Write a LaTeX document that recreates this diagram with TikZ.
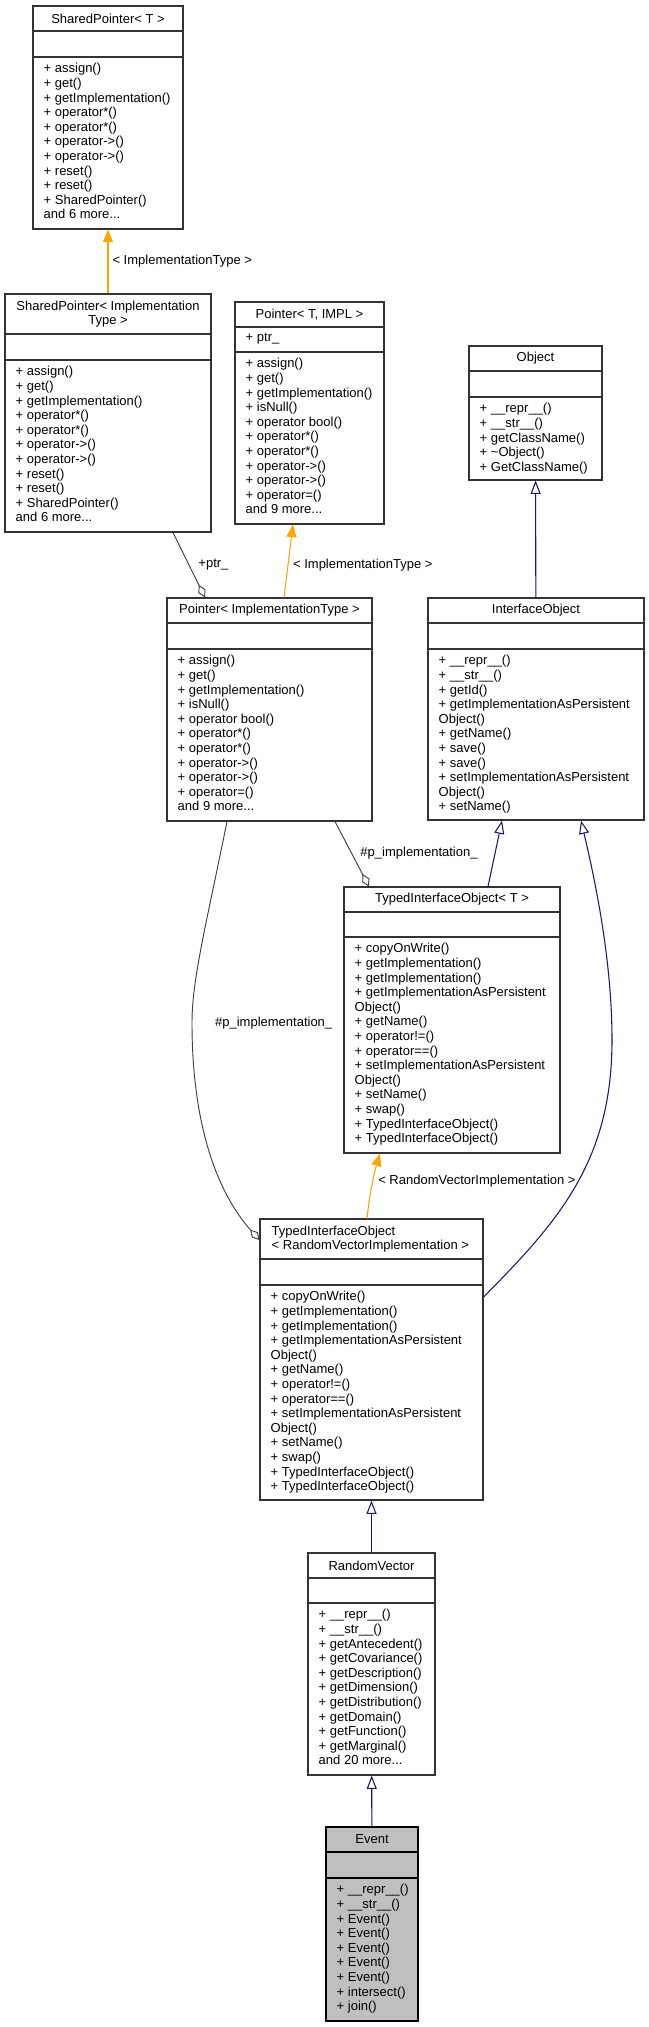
\documentclass[tikz,border=0pt]{standalone}
\usepackage{fontspec}
\setmainfont{Liberation Sans}
\usepackage{xcolor}
\usetikzlibrary{arrows.meta,positioning}

\definecolor{tmplorange}{HTML}{FFA500}
\definecolor{inhblue}{HTML}{191970}
\definecolor{usegray}{HTML}{404040}

\begin{document}
\begin{tikzpicture}[x=0.75pt, y=-0.75pt,
	every node/.style={font=\fontsize{9.75}{10.95}\selectfont},
	cls/.style={rectangle, draw=black!80, line width=0.8pt, fill=white, inner sep=0pt},
	ttl/.style={inner sep=0pt, align=center},
	mem/.style={anchor=north west, inner xsep=8.25pt, inner ysep=4.6pt, align=left},
	tmpl/.style={draw=tmplorange, line width=0.8pt, -{Triangle[length=9.5pt, width=7.5pt]}},
	inh/.style={draw=inhblue, line width=0.8pt, -{Triangle[open, length=10pt, width=7.5pt, fill=white]}},
	use/.style={draw=usegray, line width=0.7pt, -{Diamond[open, length=10.5pt, width=6pt, fill=white]}},
	lbl/.style={inner sep=0pt}
]
	\useasboundingbox (0,0) rectangle (649,2027);

	% SharedPointer< T >
	\node[cls, minimum width=112.5pt, minimum height=167.25pt] (SPT) at (108,117.5) {};
	\draw[black!80, line width=0.8pt] (SPT.west |- 0,31) -- (SPT.east |- 0,31);
	\draw[black!80, line width=0.8pt] (SPT.west |- 0,57) -- (SPT.east |- 0,57);
	\node[ttl] (SPTt) at (108,18.5) {SharedPointer< T >};
	\node[mem] (SPTm) at (SPT.west |- 0,57) {+ assign()\\+ get()\\+ getImplementation()\\+ operator*()\\+ operator*()\\+ operator->()\\+ operator->()\\+ reset()\\+ reset()\\+ SharedPointer()\\and 6 more...};

	% SharedPointer< ImplementationType >
	\node[cls, minimum width=154.5pt, minimum height=178.5pt] (SPI) at (108,413) {};
	\draw[black!80, line width=0.8pt] (SPI.west |- 0,334) -- (SPI.east |- 0,334);
	\draw[black!80, line width=0.8pt] (SPI.west |- 0,360) -- (SPI.east |- 0,360);
	\node[ttl] (SPIt) at (108,314) {SharedPointer< Implementation\\Type >};
	\node[mem] (SPIm) at (SPI.west |- 0,360) {+ assign()\\+ get()\\+ getImplementation()\\+ operator*()\\+ operator*()\\+ operator->()\\+ operator->()\\+ reset()\\+ reset()\\+ SharedPointer()\\and 6 more...};

	% Pointer< T, IMPL >
	\node[cls, minimum width=111.75pt, minimum height=166.5pt] (PTI) at (309.5,413) {};
	\draw[black!80, line width=0.8pt] (PTI.west |- 0,327) -- (PTI.east |- 0,327);
	\draw[black!80, line width=0.8pt] (PTI.west |- 0,352) -- (PTI.east |- 0,352);
	\node[ttl] (PTIt) at (309.5,314.5) {Pointer< T, IMPL >};
	\node[mem] (PTIa) at (PTI.west |- 0,327) {+ ptr\_};
	\node[mem] (PTIm) at (PTI.west |- 0,352) {+ assign()\\+ get()\\+ getImplementation()\\+ isNull()\\+ operator bool()\\+ operator*()\\+ operator*()\\+ operator->()\\+ operator->()\\+ operator=()\\and 9 more...};

	% Object
	\node[cls, minimum width=99.75pt, minimum height=100.5pt] (OBJ) at (535.5,413) {};
	\draw[black!80, line width=0.8pt] (OBJ.west |- 0,371) -- (OBJ.east |- 0,371);
	\draw[black!80, line width=0.8pt] (OBJ.west |- 0,397) -- (OBJ.east |- 0,397);
	\node[ttl] (OBJt) at (535.5,358.5) {Object};
	\node[mem] (OBJm) at (OBJ.west |- 0,397) {+ \_\_repr\_\_()\\+ \_\_str\_\_()\\+ getClassName()\\+ \textasciitilde Object()\\+ GetClassName()};

	% Pointer< ImplementationType >
	\node[cls, minimum width=153.75pt, minimum height=167.25pt] (PIT) at (269.5,709.5) {};
	\draw[black!80, line width=0.8pt] (PIT.west |- 0,623) -- (PIT.east |- 0,623);
	\draw[black!80, line width=0.8pt] (PIT.west |- 0,649) -- (PIT.east |- 0,649);
	\node[ttl] (PITt) at (269.5,610.5) {Pointer< ImplementationType >};
	\node[mem] (PITm) at (PIT.west |- 0,649) {+ assign()\\+ get()\\+ getImplementation()\\+ isNull()\\+ operator bool()\\+ operator*()\\+ operator*()\\+ operator->()\\+ operator->()\\+ operator=()\\and 9 more...};

	% InterfaceObject
	\node[cls, minimum width=162pt, minimum height=166.5pt] (IO) at (536,709) {};
	\draw[black!80, line width=0.8pt] (IO.west |- 0,623) -- (IO.east |- 0,623);
	\draw[black!80, line width=0.8pt] (IO.west |- 0,649) -- (IO.east |- 0,649);
	\node[ttl] (IOt) at (536,610.5) {InterfaceObject};
	\node[mem] (IOm) at (IO.west |- 0,649) {+ \_\_repr\_\_()\\+ \_\_str\_\_()\\+ getId()\\+ getImplementationAsPersistent\\Object()\\+ getName()\\+ save()\\+ save()\\+ setImplementationAsPersistent\\Object()\\+ setName()};

	% TypedInterfaceObject< T >
	\node[cls, minimum width=162pt, minimum height=199.5pt] (TIT) at (452,1020) {};
	\draw[black!80, line width=0.8pt] (TIT.west |- 0,912) -- (TIT.east |- 0,912);
	\draw[black!80, line width=0.8pt] (TIT.west |- 0,937) -- (TIT.east |- 0,937);
	\node[ttl] (TITt) at (452,899.5) {TypedInterfaceObject< T >};
	\node[mem] (TITm) at (TIT.west |- 0,937) {+ copyOnWrite()\\+ getImplementation()\\+ getImplementation()\\+ getImplementationAsPersistent\\Object()\\+ getName()\\+ operator!=()\\+ operator==()\\+ setImplementationAsPersistent\\Object()\\+ setName()\\+ swap()\\+ TypedInterfaceObject()\\+ TypedInterfaceObject()};

	% TypedInterfaceObject< RandomVectorImplementation >
	\node[cls, minimum width=167.25pt, minimum height=210.75pt] (TIR) at (371.5,1359.5) {};
	\draw[black!80, line width=0.8pt] (TIR.west |- 0,1259) -- (TIR.east |- 0,1259);
	\draw[black!80, line width=0.8pt] (TIR.west |- 0,1285) -- (TIR.east |- 0,1285);
	\node[ttl, align=left, anchor=west, inner xsep=9pt] (TIRt) at (TIR.west |- 0,1239) {TypedInterfaceObject\\< RandomVectorImplementation >};
	\node[mem] (TIRm) at (TIR.west |- 0,1285) {+ copyOnWrite()\\+ getImplementation()\\+ getImplementation()\\+ getImplementationAsPersistent\\Object()\\+ getName()\\+ operator!=()\\+ operator==()\\+ setImplementationAsPersistent\\Object()\\+ setName()\\+ swap()\\+ TypedInterfaceObject()\\+ TypedInterfaceObject()};

	% RandomVector
	\node[cls, minimum width=95.25pt, minimum height=166.5pt] (RV) at (371.5,1664) {};
	\draw[black!80, line width=0.8pt] (RV.west |- 0,1578) -- (RV.east |- 0,1578);
	\draw[black!80, line width=0.8pt] (RV.west |- 0,1603) -- (RV.east |- 0,1603);
	\node[ttl] (RVt) at (371.5,1565.5) {RandomVector};
	\node[mem] (RVm) at (RV.west |- 0,1603) {+ \_\_repr\_\_()\\+ \_\_str\_\_()\\+ getAntecedent()\\+ getCovariance()\\+ getDescription()\\+ getDimension()\\+ getDistribution()\\+ getDomain()\\+ getFunction()\\+ getMarginal()\\and 20 more...};

	% Event
	\node[cls, fill=black!25, draw=black, minimum width=69pt, minimum height=145.5pt] (EV) at (372,1924) {};
	\draw[black, line width=0.8pt] (EV.west |- 0,1852) -- (EV.east |- 0,1852);
	\draw[black, line width=0.8pt] (EV.west |- 0,1878) -- (EV.east |- 0,1878);
	\node[ttl] (EVt) at (372,1839.5) {Event};
	\node[mem] (EVm) at (EV.west |- 0,1878) {+ \_\_repr\_\_()\\+ \_\_str\_\_()\\+ Event()\\+ Event()\\+ Event()\\+ Event()\\+ Event()\\+ intersect()\\+ join()};

	% template instances
	\draw[tmpl] (SPI) -- (SPT) node[lbl, midway, right=3pt] {< ImplementationType >};
	\draw[tmpl] (PIT.north -| 284,0) -- (PTI.south -| 293,0) node[lbl, pos=0.45, right=3.4pt] {< ImplementationType >};
	\draw[tmpl] (TIR.north -| 367,0) .. controls (370,1190) and (375,1170) .. (TIT.south -| 380,0)
		node[lbl, midway, right=3.75pt] {< RandomVectorImplementation >};

	% inheritance
	\draw[inh] (IO) -- (OBJ);
	\draw[inh] (TIT.north -| 488,0) -- (IO.south -| 502,0);
	\draw[inh] (TIR.east |- 0,1297) .. controls (560,1220) and (612,1160) .. (612,1040)
		.. controls (612,960) and (595,880) .. (IO.south -| 581,0);
	\draw[inh] (RV) -- (TIR);
	\draw[inh] (EV) -- (RV);

	% usage
	\draw[use] (SPI.south -| 173,0) -- (PIT.north -| 205,0) node[lbl, pos=0.5, right=6.75pt] {+ptr\_};
	\draw[use] (PIT.south -| 335,0) -- (TIT.north -| 369,0) node[lbl, pos=0.485, right=6.4pt] {\#p\_implementation\_};
	\draw[use] (PIT.south -| 227,0) .. controls (205,930) and (192,980) .. (192,1023)
		node[lbl, right=17pt] {\#p\_implementation\_}
		.. controls (192,1120) and (215,1190) .. (TIR.west |- 0,1240);
\end{tikzpicture}
\end{document}
